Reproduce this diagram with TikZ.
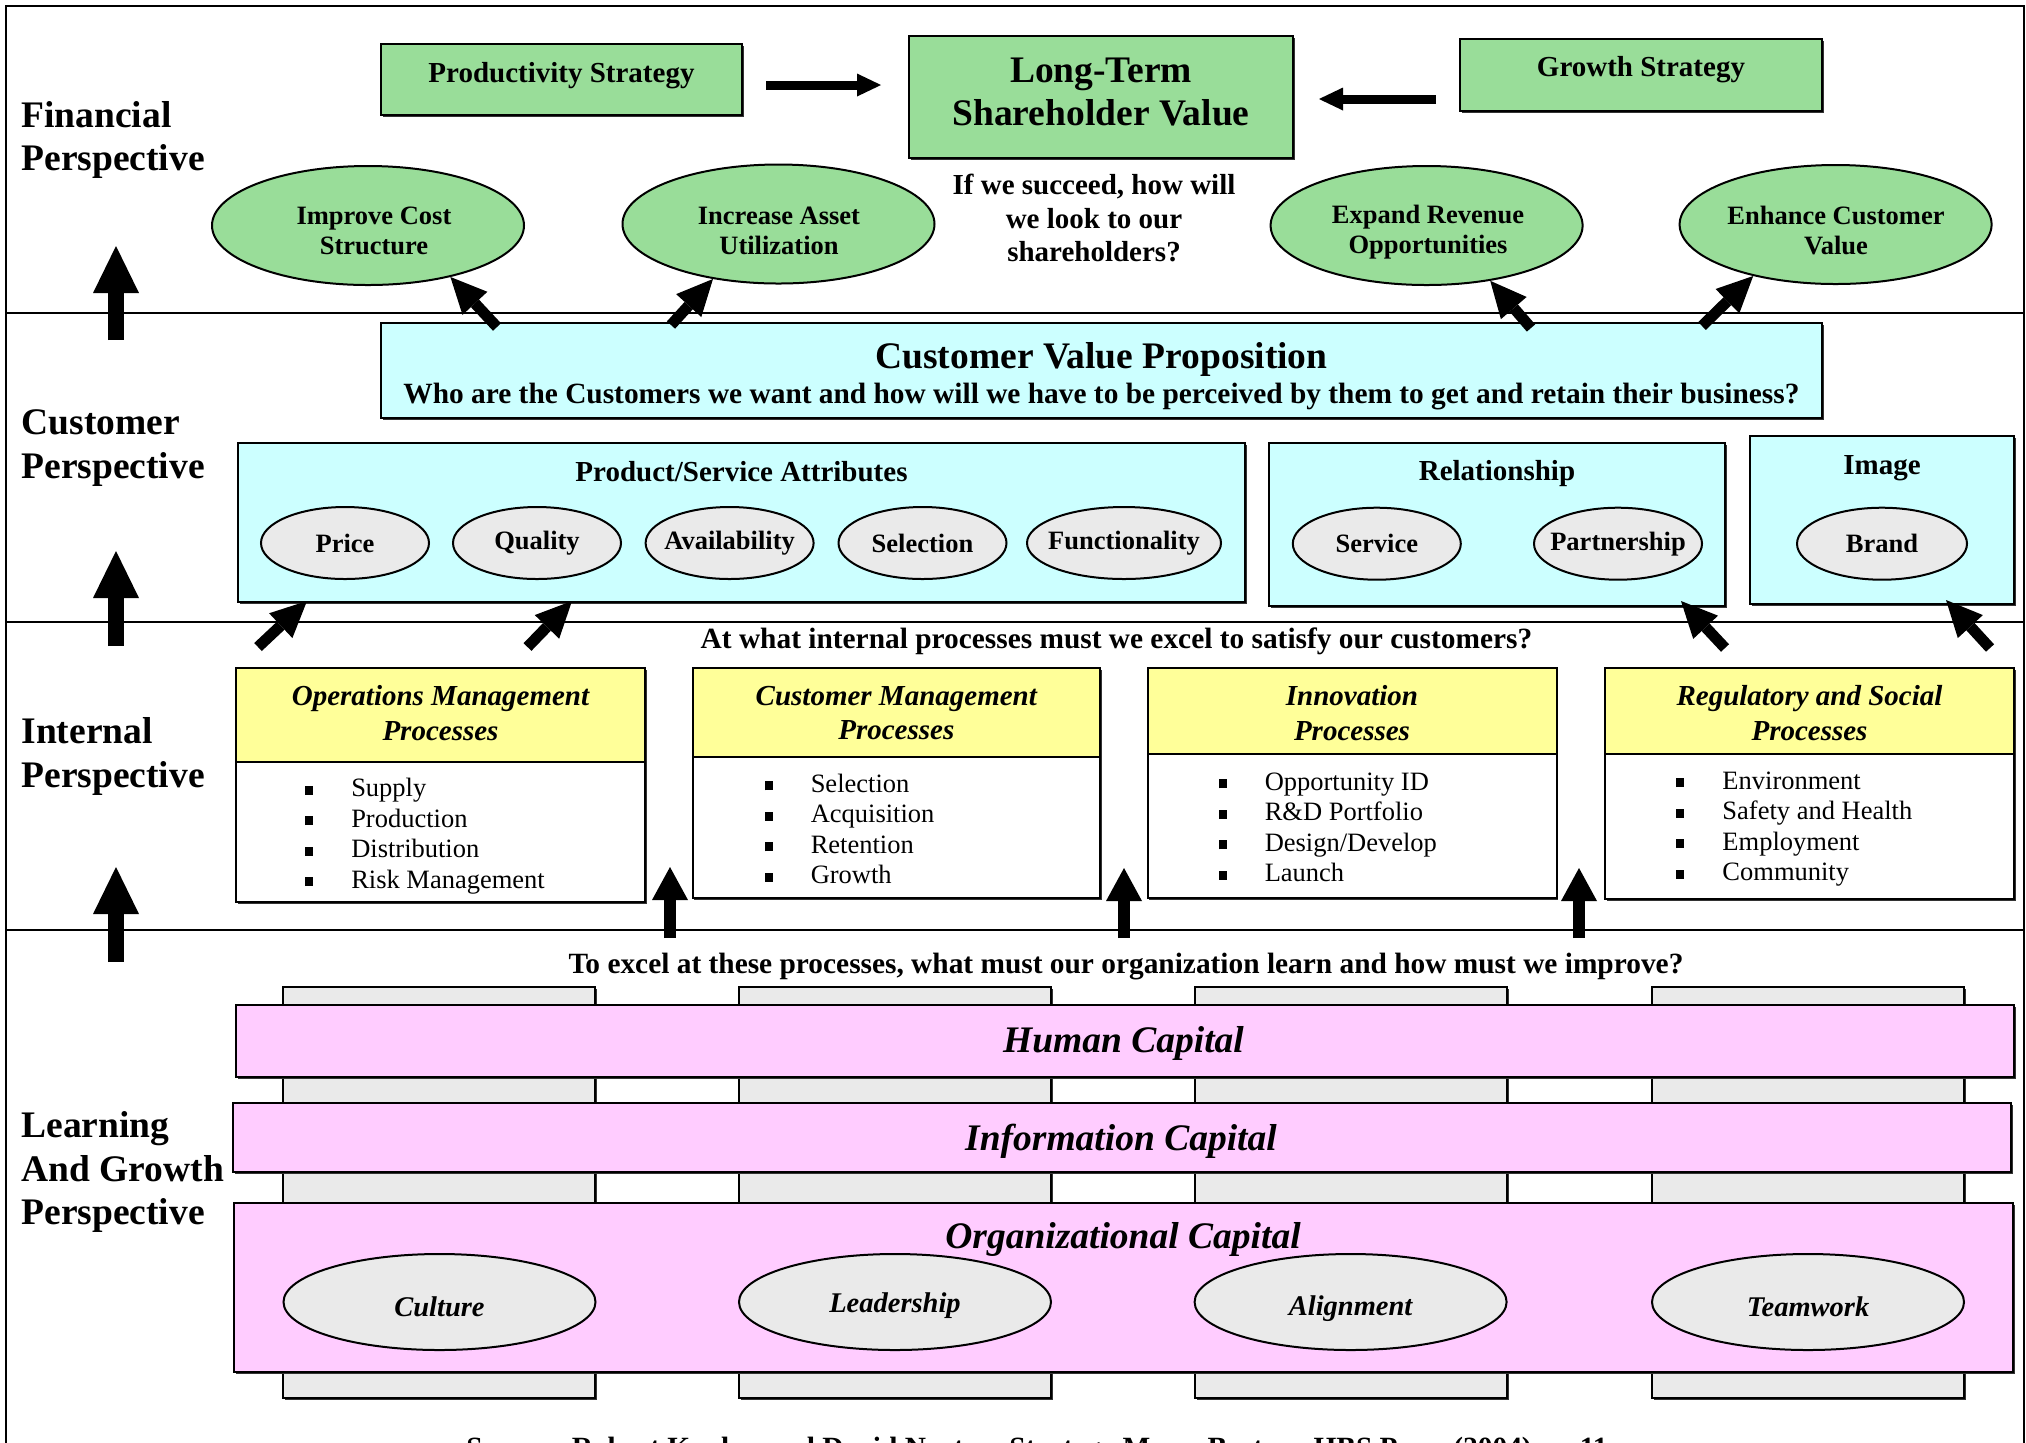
\documentclass[tikz,border=0pt]{standalone}
\usepackage{fontspec}
\setmainfont{Liberation Serif}
\usetikzlibrary{shapes.geometric,arrows.meta,calc,shadows}
\definecolor{grn}{RGB}{153,221,153}
\definecolor{cyn}{RGB}{204,255,255}
\definecolor{ylw}{RGB}{255,255,153}
\definecolor{pnk}{RGB}{255,204,255}
\definecolor{gry}{RGB}{234,234,234}
\newcommand\fsA{\fontsize{15}{16.9}\selectfont}
\newcommand\fsL{\fontsize{15}{17.4}\selectfont}
\newcommand\fsB{\fontsize{11.6}{13.4}\selectfont}
\newcommand\fsC{\fontsize{10.6}{12}\selectfont}
\newcommand\fsBL{\fontsize{10.6}{12.2}\selectfont}
\newcommand\fsD{\fontsize{11.4}{13}\selectfont}
\newcommand\fsE{\fontsize{11.75}{13.4}\selectfont}
\newcommand\fsH{\fontsize{11.6}{13.8}\selectfont}
\newcommand\bul{\makebox[18.5pt][l]{\rule[0.8pt]{3.2pt}{3.6pt}}}
\def\U{0.4pt}
\tikzset{
  shd/.style={drop shadow={shadow xshift=0.6pt,shadow yshift=-0.6pt,fill=black!80,opacity=1}},
  box/.style={rectangle, draw, line width=0.8pt, inner sep=0, align=center, shd},
  gbox/.style={box, fill=grn, font=\fsB\bfseries},
  ell/.style={ellipse, draw, line width=0.8pt, inner sep=0, align=center},
  gell/.style={ell, fill=grn, minimum width=312*\U, minimum height=119*\U},
  aell/.style={ell, fill=gry, font=\fsC\bfseries, minimum width=168*\U, minimum height=72*\U},
  cell/.style={ell, fill=gry, minimum width=312*\U, minimum height=96*\U},
  cbox/.style={box, fill=cyn},
  hdr/.style={box, fill=ylw, font=\fsH\bfseries\itshape},
  bodybox/.style={box, fill=white},
  pil/.style={box, fill=gry},
  bar/.style={box, fill=pnk},
  lbl/.style={inner sep=0, align=left, anchor=west, font=\fsL\bfseries},
  txt/.style={inner sep=0, align=center},
  etxt/.style={txt, font=\fsC\bfseries},
  ctxt/.style={txt, font=\fsD\bfseries\itshape},
  lst/.style={inner sep=0, align=left, anchor=west, font=\fsBL},
  bigarr/.style={line width=6.4pt, -{Triangle[width=18.4pt,length=18.8pt,line width=0pt]}},
  midarr/.style={line width=4.8pt, -{Triangle[width=14.4pt,length=13.2pt,line width=0pt]}},
  diagarr/.style={line width=4.4pt, -{Triangle[width=13.6pt,length=14.4pt,line width=0pt]}},
  harr/.style={line width=3.6pt, -{Triangle[width=9.2pt,length=9.6pt,line width=0pt]}},
  sep/.style={line width=0.8pt}
}
\begin{document}
\begin{tikzpicture}[x=0.4pt,y=-0.4pt]
\path[use as bounding box, fill=white] (0,0) rectangle (2026,1442);
\clip (0,0) rectangle (2026,1442);

% frame and section lines
\draw[sep] (6,1500) -- (6,6) -- (2024,6) -- (2024,1500);
\draw[sep] (6,313) -- (2024,313);
\draw[sep] (6,622) -- (2024,622);
\draw[sep] (6,930) -- (2024,930);

% perspective labels
\node[lbl] (finl) at (21,140) {Financial\\Perspective};
\node[lbl] (custl) at (21,448) {Customer\\Perspective};
\node[lbl] (intl) at (21,756.5) {Internal\\Perspective};
\node[lbl] (lrnl) at (21,1172) {Learning\\And Growth\\Perspective};

% ---------------- Financial
\node[gbox, minimum width=361*\U, minimum height=71*\U] (prod) at (561.5,79.5) {};
\node[txt, font=\fsB\bfseries] (prodt) at (561.5,76) {Productivity Strategy};
\node[gbox, minimum width=384*\U, minimum height=122*\U] (ltsv) at (1101,97) {};
\node[txt, font=\fsA\bfseries] (ltsvt) at (1101,92) {Long-Term\\Shareholder Value};
\node[gbox, minimum width=362*\U, minimum height=72*\U] (grow) at (1641,75) {};
\node[txt, font=\fsB\bfseries] (growt) at (1641,70) {Growth Strategy};
\node[txt, font=\fsB\bfseries] (q1) at (1094,218) {If we succeed, how will\\we look to our\\shareholders?};

\node[gell] (ics) at (368,225.5) {};
\node[etxt] (icst) at (374,231) {Improve Cost\\Structure};
\node[gell] (iau) at (778.5,224) {};
\node[etxt] (iaut) at (779,231) {Increase Asset\\Utilization};
\node[gell] (ero) at (1426.6,225.5) {};
\node[etxt] (erot) at (1428,232) {Expand Revenue\\Opportunities};
\node[gell] (ecv) at (1835.6,224.5) {};
\node[etxt] (ecvt) at (1836,230) {Enhance Customer\\Value};

\draw[harr] ($(prod.east)+(23,5.5)$) -- ($(ltsv.west)+(-27,-12)$);
\draw[harr] ($(grow.west)+(-23,24)$) -- ($(ltsv.east)+(25,2)$);

% ---------------- Customer
\node[cbox, minimum width=1441*\U, minimum height=95*\U] (cvp) at (1101.5,370.5) {};
\node[txt, font=\fsA\bfseries] (cvpt) at (1101.5,359) {Customer Value Proposition};
\node[txt, font=\fsE\bfseries] (cvps) at (1101.5,397) {Who are the Customers we want and how will we have to be perceived by them to get and retain their business?};

\node[cbox, minimum width=1007*\U, minimum height=159*\U] (psa) at (741.5,522.5) {};
\node[txt, font=\fsB\bfseries] (psat) at (741.5,472) {Product/Service Attributes};
\node[cbox, minimum width=456*\U, minimum height=163*\U] (rel) at (1497,524.5) {};
\node[txt, font=\fsB\bfseries] (relt) at (1497,474) {Relationship};
\node[cbox, minimum width=264*\U, minimum height=168*\U] (img) at (1882,520) {};
\node[txt, font=\fsB\bfseries] (imgt) at (1882,468) {Image};

\node[aell] (price) at (345,543) {\makebox[0pt]{Price}};
\node[aell] (qual) at (537,543) {\makebox[0pt]{Quality}};
\node[aell] (avail) at (729.6,543) {\makebox[0pt]{Availability}};
\node[aell] (selc) at (922.5,543) {\makebox[0pt]{Selection}};
\node[aell, minimum width=194*\U] (func) at (1124,543) {\makebox[0pt]{Functionality}};
\node[aell] (serv) at (1376.8,543.7) {\makebox[0pt]{Service}};
\node[aell] (part) at (1618,543.7) {\makebox[0pt]{Partnership}};
\node[aell, minimum width=170*\U] (brand) at (1882,543.7) {\makebox[0pt]{Brand}};

% arrows customer -> financial
\coordinate (t1) at (497,327);
\coordinate (t2) at (671,325);
\coordinate (t3) at (1531,328);
\coordinate (t4) at (1702,326);
\draw[diagarr] (t1) -- (ics.-32);
\draw[diagarr] (t2) -- (iau.220.7);
\draw[diagarr] (t3) -- (ero.-41);
\draw[diagarr] (t4) -- (ecv.212);

% ---------------- Internal
\node[txt, font=\fsE\bfseries] (q2) at (1116.5,641.5) {At what internal processes must we excel to satisfy our customers?};

\node[hdr, minimum width=409*\U, minimum height=94*\U] (opsh) at (440.5,715) {};
\node[txt, font=\fsH\bfseries\itshape] (opst) at (440.5,713) {Operations Management\\Processes};
\node[bodybox, minimum width=409*\U, minimum height=140*\U] (opsb) at (440.5,832) {};
\node[hdr, minimum width=407.4*\U, minimum height=89*\U] (cmh) at (896.3,712.5) {};
\node[txt, font=\fsH\bfseries\itshape] (cmt) at (896.3,713) {Customer Management\\Processes};
\node[bodybox, minimum width=407.4*\U, minimum height=141*\U] (cmb) at (896.3,827.5) {};
\node[hdr, minimum width=409*\U, minimum height=86*\U] (innh) at (1352,711) {};
\node[txt, font=\fsH\bfseries\itshape] (innt) at (1352,713) {Innovation\\Processes};
\node[bodybox, minimum width=409*\U, minimum height=144*\U] (innb) at (1352,826) {};
\node[hdr, minimum width=409*\U, minimum height=86*\U] (regh) at (1809.5,711) {};
\node[txt, font=\fsH\bfseries\itshape] (regt) at (1809.5,713) {Regulatory and Social\\Processes};
\node[bodybox, minimum width=409*\U, minimum height=145*\U] (regb) at (1809.5,826.5) {};

\node[lst] (opsl) at (304.5,836) {\bul Supply\\\bul Production\\\bul Distribution\\\bul Risk Management};
\node[lst] (cml) at (764,829) {\bul Selection\\\bul Acquisition\\\bul Retention\\\bul Growth};
\node[lst] (innl) at (1218,827.4) {\bul Opportunity ID\\\bul R\&D Portfolio\\\bul Design/Develop\\\bul Launch};
\node[lst] (regl) at (1675.7,829) {\bul Environment\\\bul Safety and Health\\\bul Employment\\\bul Community};

% arrows internal -> customer
\coordinate (s1) at (258,647);
\coordinate (s2) at (527.5,647);
\coordinate (s3) at (1725,648);
\coordinate (s4) at (1990,648);
\draw[diagarr] (s1) -- ($(psa.south west)+(70,-2)$);
\draw[diagarr] (s2) -- ($(psa.south west)+(335,-2)$);
\draw[diagarr] (s3) -- ($(rel.south east)+(-45,-6)$);
\draw[diagarr] (s4) -- ($(img.south east)+(-69,-5)$);

% ---------------- Learning and growth
\node[txt, font=\fsE\bfseries] (q3) at (1126,966.5) {To excel at these processes, what must our organization learn and how must we improve?};

\node[pil, minimum width=312*\U, minimum height=411*\U] (p1) at (439,1192.5) {};
\node[pil, minimum width=312*\U, minimum height=411*\U] (p2) at (895.4,1192.5) {};
\node[pil, minimum width=312*\U, minimum height=411*\U] (p3) at (1351,1192.5) {};
\node[pil, minimum width=312*\U, minimum height=411*\U] (p4) at (1808,1192.5) {};

\node[bar, minimum width=1778*\U, minimum height=72*\U] (hc) at (1125,1041) {};
\node[txt, font=\fsA\bfseries\itshape] (hct) at (1123.5,1043) {Human Capital};
\node[bar, minimum width=1778*\U, minimum height=69*\U] (ic) at (1122,1137.5) {};
\node[txt, font=\fsA\bfseries\itshape] (ict) at (1121,1141) {Information Capital};
\node[bar, minimum width=1779*\U, minimum height=169*\U] (oc) at (1123.5,1287.5) {};
\node[txt, font=\fsA\bfseries\itshape] (oct) at (1123,1239.5) {Organizational Capital};

\node[cell] (cult) at (439.5,1302) {};
\node[ctxt] (cultt) at (439.5,1307) {Culture};
\node[cell] (lead) at (895,1302) {};
\node[ctxt] (leadt) at (895,1305.5) {Leadership};
\node[cell] (align) at (1350.6,1302) {};
\node[ctxt] (alignt) at (1350.6,1308.5) {Alignment};
\node[cell] (team) at (1808,1302) {};
\node[ctxt] (teamt) at (1808,1307) {Teamwork};

\node[txt, font=\fsE\bfseries, anchor=base] (src) at (1037,1457) {Source: Robert Kaplan and David Norton, Strategy Maps, Boston: HBS Press (2004), p. 11};

% ---------------- upward arrows
\coordinate (v1s) at (116,340);  \coordinate (v1e) at (116,246);
\coordinate (v2s) at (116,646);  \coordinate (v2e) at (116,551);
\coordinate (v3s) at (116,962);  \coordinate (v3e) at (116,867);
\draw[bigarr] (v1s) -- (v1e);
\draw[bigarr] (v2s) -- (v2e);
\draw[bigarr] (v3s) -- (v3e);

\coordinate (g1s) at (670,938);  \coordinate (g1e) at (670,867);
\coordinate (g2s) at (1124,938); \coordinate (g2e) at (1124,868);
\coordinate (g3s) at (1579,938); \coordinate (g3e) at (1579,868);
\draw[midarr] (g1s) -- (g1e);
\draw[midarr] (g2s) -- (g2e);
\draw[midarr] (g3s) -- (g3e);
\end{tikzpicture}
\end{document}
